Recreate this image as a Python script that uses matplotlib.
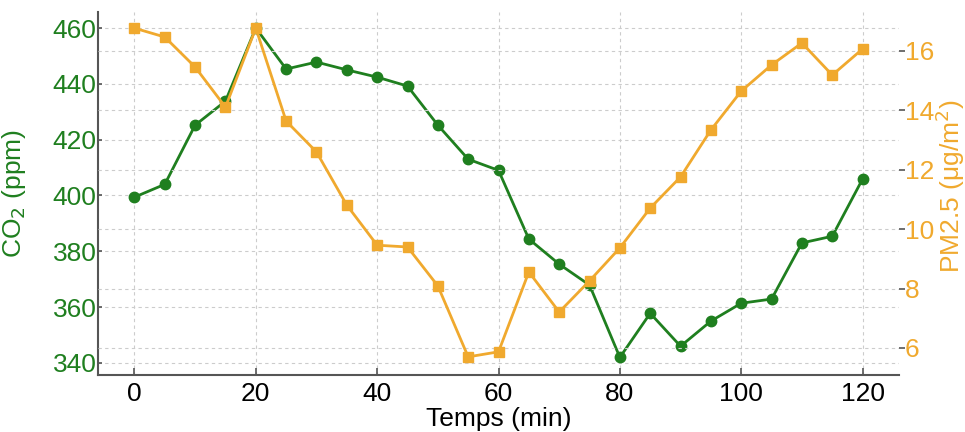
import numpy as np
import matplotlib
matplotlib.use('Agg')
import matplotlib.pyplot as plt

plt.rcParams['font.family'] = ['Liberation Sans', 'DejaVu Sans']

# data
temps = [0, 5, 10, 15, 20, 25, 30, 35, 40, 45, 50, 55, 60,
         65, 70, 75, 80, 85, 90, 95, 100, 105, 110, 115, 120]
co2 = [399.4, 404, 425.2, 433.8, 460, 445.3, 447.8, 445, 442.4, 439.2, 425.2, 413, 409,
       384.4, 375.4, 367.9, 342, 357.8, 346, 355, 361.4, 362.9, 383, 385.4, 405.9]
pm25 = [16.77, 16.47, 15.46, 14.11, 16.77, 13.64, 12.6, 10.81, 9.46, 9.4, 8.09, 5.7, 5.87,
        8.56, 7.21, 8.26, 9.37, 10.71, 11.76, 13.34, 14.65, 15.53, 16.27, 15.19, 16.07]

x_ticks = [0, 20, 40, 60, 80, 100, 120]
co2_ticks = [340, 360, 380, 400, 420, 440, 460]
pm_ticks = [6, 8, 10, 12, 14, 16]

green = '#1f7f1f'
orange = '#f0a92e'
grid_c = '#cccccc'
fs = 19

fig = plt.figure(figsize=(9.65, 4.32), dpi=100)
ax = fig.add_axes([0.1016, 0.132, 0.83, 0.840])
ax2 = ax.twinx()

ax.set_xlim(-6, 126)
ax.set_ylim(335.7, 465.7)
ax2.set_ylim(5.09, 17.31)

# grids
ax.grid(True, axis='both', linestyle=(0, (3, 3)), color=grid_c, linewidth=0.8)
ax2.grid(True, axis='y', linestyle=(0, (3, 3)), color=grid_c, linewidth=0.8)
ax.set_axisbelow(True)
ax2.set_axisbelow(True)

ax.plot(temps, co2, '-o', color=green, lw=2, ms=7.5)
ax2.plot(temps, pm25, '-s', color=orange, lw=2, ms=7)

ax.set_xticks(x_ticks)
ax.set_yticks(co2_ticks)
ax2.set_yticks(pm_ticks)

ax.tick_params(axis='x', direction='in', length=5, width=1.2, color='#555555',
               labelsize=fs, labelcolor='black', pad=5)
ax.tick_params(axis='y', direction='in', length=3, width=1.2, color='#555555',
               labelsize=fs, labelcolor=green, pad=1)
ax2.tick_params(axis='y', direction='out', length=4, width=1.2, color='#555555',
                labelsize=fs, labelcolor=orange, pad=0)

for s in ['top', 'right']:
    ax.spines[s].set_visible(False)
for s in ['top', 'right', 'left', 'bottom']:
    ax2.spines[s].set_visible(False)
for s in ['left', 'bottom']:
    ax.spines[s].set_color('#555555')
    ax.spines[s].set_linewidth(1.5)

ax.set_xlabel('Temps (min)', fontsize=fs)
ax.xaxis.set_label_coords(0.5, -0.088)
ax.set_ylabel('CO$_2$ (ppm)', fontsize=fs, color=green)
ax.yaxis.set_label_coords(-0.088, 0.5)
ax2.set_ylabel('PM2.5 (\u03bcg/m$^2$)', fontsize=fs, color=orange)
ax2.yaxis.set_label_coords(1.043, 0.52)

fig.savefig('out.png', dpi=100)
